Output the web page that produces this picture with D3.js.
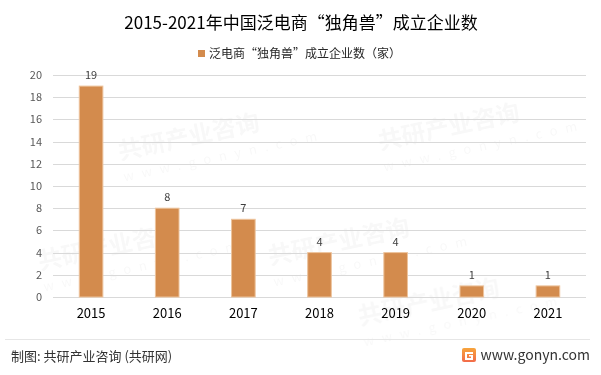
<!DOCTYPE html>
<html>
<head>
<meta charset="utf-8">
<script src="https://cdn.jsdelivr.net/npm/d3@7"></script>
<style>
  body { margin: 0; background: #fff; }
  svg { display: block; font-family: "Microsoft YaHei", "Noto Sans CJK SC", sans-serif; }
</style>
</head>
<body>
<div id="chart"></div>
<script>
var years = ['2015', '2016', '2017', '2018', '2019', '2020', '2021'];
var counts = [19, 8, 7, 4, 4, 1, 1];
var yTicks = [0, 2, 4, 6, 8, 10, 12, 14, 16, 18, 20];

var width = 601, height = 375;
var margin = {top: 75, left: 53, right: 15, bottom: 78};

var svg = d3.select('#chart')
  .append('svg')
  .attr('width', width)
  .attr('height', height);

// faint watermark, kept inside the picture
var wm = svg.append('g').attr('fill', '#000').attr('opacity', 0.03)
  .attr('font-weight', 'bold');
[[120, 160], [380, 150], [40, 270], [270, 265], [360, 325]].forEach(function(p) {
  var g = wm.append('g').attr('transform', 'translate(' + p[0] + ',' + p[1] + ') rotate(-12)');
  g.append('text').attr('font-size', 24).text('共研产业咨询');
  g.append('text').attr('y', 22).attr('font-size', 13).attr('letter-spacing', 8).attr('font-weight', 'normal').text('www.gonyn.com');
});

var x = d3.scaleBand()
  .domain(years)
  .range([margin.left, width - margin.right])
  .paddingInner(0.69)
  .paddingOuter(0.345);

var y = d3.scaleLinear()
  .domain([0, 20])
  .range([height - margin.bottom, margin.top]);

// gridlines
svg.append('g')
  .selectAll('line')
  .data(yTicks)
  .enter()
  .append('line')
  .attr('x1', margin.left)
  .attr('x2', width - margin.right)
  .attr('y1', function(d) { return Math.round(y(d)) + 0.5; })
  .attr('y2', function(d) { return Math.round(y(d)) + 0.5; })
  .attr('stroke', '#d9d9d9')
  .attr('stroke-width', 1);

// y axis labels
var yAxis = d3.axisLeft(y).tickValues(yTicks).tickSize(0).tickPadding(0);
svg.append('g')
  .attr('transform', 'translate(42,0)')
  .call(yAxis)
  .call(function(g) { g.select('.domain').remove(); })
  .selectAll('text')
  .attr('font-size', 11)
  .attr('fill', '#595959')
  .attr('font-family', '"Microsoft YaHei", "Noto Sans CJK SC", sans-serif');

// bars
svg.append('g')
  .selectAll('rect')
  .data(counts)
  .enter()
  .append('rect')
  .attr('x', function(d, i) { return x(years[i]); })
  .attr('width', x.bandwidth())
  .attr('y', function(d) { return y(d); })
  .attr('height', function(d) { return y(0) - y(d); })
  .attr('fill', '#d38b4d')
  .attr('stroke', '#edc39c')
  .attr('stroke-width', 1);

// value labels
svg.append('g')
  .selectAll('text')
  .data(counts)
  .enter()
  .append('text')
  .attr('x', function(d, i) { return x(years[i]) + x.bandwidth() / 2; })
  .attr('y', function(d) { return y(d) - 7; })
  .attr('text-anchor', 'middle')
  .attr('font-size', 11)
  .attr('fill', '#404040')
  .text(function(d) { return d; });

// x axis labels
var xAxis = d3.axisBottom(x).tickSize(0).tickPadding(0);
svg.append('g')
  .attr('transform', 'translate(0,' + (y(0) + 12) + ')')
  .call(xAxis)
  .call(function(g) { g.select('.domain').remove(); })
  .selectAll('text')
  .attr('font-size', 13)
  .attr('fill', '#000')
  .attr('font-family', '"Microsoft YaHei", "Noto Sans CJK SC", sans-serif');

// title
svg.append('text')
  .attr('x', 301)
  .attr('y', 29)
  .attr('text-anchor', 'middle')
  .attr('font-size', 17)
  .attr('fill', '#000')
  .text('2015-2021年中国泛电商“独角兽”成立企业数');

// legend
svg.append('rect')
  .attr('x', 198)
  .attr('y', 50)
  .attr('width', 7)
  .attr('height', 7)
  .attr('fill', '#d38b4d');
svg.append('text')
  .attr('x', 209)
  .attr('y', 58)
  .attr('font-size', 12)
  .attr('fill', '#262626')
  .text('泛电商“独角兽”成立企业数（家）');

// footer
svg.append('line')
  .attr('x1', 5).attr('x2', 590)
  .attr('y1', 339.5).attr('y2', 339.5)
  .attr('stroke', '#e6e6e6');

svg.append('text')
  .attr('x', 11)
  .attr('y', 361)
  .attr('font-size', 13)
  .attr('fill', '#333')
  .text('制图: 共研产业咨询 (共研网)');

var grad = svg.append('defs').append('linearGradient')
  .attr('id', 'logoGrad').attr('x1', 0).attr('y1', 0).attr('x2', 0).attr('y2', 1);
grad.append('stop').attr('offset', '0%').attr('stop-color', '#f7a53c');
grad.append('stop').attr('offset', '100%').attr('stop-color', '#f26b4a');

var logo = svg.append('g').attr('transform', 'translate(462,348)');
logo.append('rect').attr('width', 14).attr('height', 14).attr('rx', 2).attr('fill', 'url(#logoGrad)');
logo.append('path')
  .attr('d', 'M3,4 H11 V6 H5 V10 H9 V8.5 H7 V7 H11 V12 H3 Z')
  .attr('fill', '#fff');

svg.append('text')
  .attr('x', 590)
  .attr('y', 360)
  .attr('text-anchor', 'end')
  .attr('font-size', 14)
  .attr('fill', '#333')
  .text('www.gonyn.com');
</script>
</body>
</html>
